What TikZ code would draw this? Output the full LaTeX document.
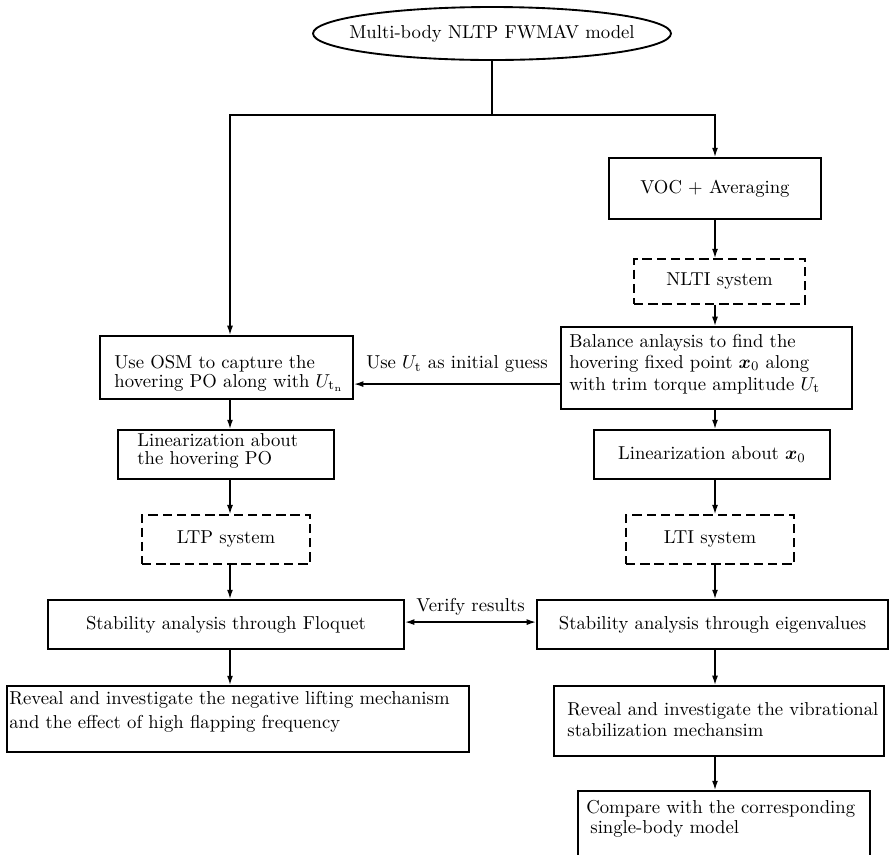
\documentclass[tikz,border=0pt]{standalone}
\usepackage{amsmath,bm}
\usetikzlibrary{arrows.meta,shapes.geometric,calc}
\begin{document}
\begin{tikzpicture}[x=0.535pt,y=-0.535pt,
  bx/.style={draw,line width=1pt,inner sep=0pt},
  dbx/.style={draw,line width=0.8pt,dash pattern=on 5pt off 2.6pt,inner sep=0pt},
  arr/.style={line width=0.8pt,-{Latex[length=5pt,width=3.2pt]}},
  darr/.style={line width=0.8pt,{Latex[length=5pt,width=3.2pt]}-{Latex[length=5pt,width=3.2pt]}},
  ln/.style={line width=0.8pt},
  tl/.style={inner sep=0pt,anchor=base west},
  font=\fontsize{10pt}{12pt}\selectfont]
\useasboundingbox (0,0) rectangle (890,854);

% top ellipse
\draw[line width=1pt] (492,33.5) ellipse [x radius=179, y radius=26.5];
\node[inner sep=0pt] (ell) at (492,33.5) {Multi-body NLTP FWMAV model};
\coordinate (ellb) at (492,60);

% right column
\node[bx,minimum width=113.4pt,minimum height=32.6pt] (voc) at (715,188.5) {VOC + Averaging};
\node[dbx,minimum width=91.5pt,minimum height=24.1pt] (nlti) at (719.5,281.5) {NLTI system};
\node[bx,minimum width=155.7pt,minimum height=43.9pt] (bal) at (706.5,368) {};
\node[tl] (bal1) at (569,347) {Balance anlaysis to find the};
\node[tl] (bal2) at (569,368) {hovering fixed point $\bm{x}_0$ along};
\node[tl] (bal3) at (569,390) {with trim torque amplitude $U_\mathrm{t}$};
\node[bx,minimum width=126.3pt,minimum height=26.2pt] (lx0) at (712,454.5) {Linearization about $\bm{x}_0$};
\node[dbx,minimum width=89.9pt,minimum height=26.2pt] (lti) at (710,539.5) {LTI system};
\node[bx,minimum width=187.8pt,minimum height=26.2pt] (eig) at (712.5,624.5) {Stability analysis through eigenvalues};
\node[bx,minimum width=176.6pt,minimum height=37.5pt] (rvr) at (719,721) {};
\node[tl] (rvr1) at (567,715) {Reveal and investigate the vibrational};
\node[tl] (rvr2) at (567,736) {stabilization mechansim};
\node[bx,minimum width=156.2pt,minimum height=47.6pt] (cmp) at (724,835.5) {};
\node[tl] (cmp1) at (586,813) {Compare with the corresponding};
\node[tl] (cmp2) at (590,833) {single-body model};

% left column
\node[bx,minimum width=135.4pt,minimum height=33.7pt] (osm) at (226.5,367.5) {};
\node[tl] (osm1) at (114,368) {Use OSM to capture the};
\node[tl] (osm2) at (114,387) {hovering PO along with $U_{\mathrm{t}_\mathrm{n}}$};
\node[bx,minimum width=115.6pt,minimum height=26.2pt] (lpo) at (226,454.5) {};
\node[tl] (lpo1) at (137,446) {Linearization about};
\node[tl] (lpo2) at (137,464) {the hovering PO};
\node[dbx,minimum width=89.9pt,minimum height=26.2pt] (ltp) at (226,539.5) {LTP system};
\node[bx,minimum width=190.5pt,minimum height=26.2pt] (flq) at (226,624.5) {Stability analysis through Floquet};
\node[bx,minimum width=247.2pt,minimum height=35.3pt] (rvl) at (238,719) {};
\node[tl] (rvl1) at (9,704) {Reveal and investigate the negative lifting mechanism};
\node[tl] (rvl2) at (9,728) {and the effect of high flapping frequency};

% helper coordinates
\coordinate (jn) at (492,115);
\coordinate (colL) at (230,0);
\coordinate (colR) at (715,0);

% connectors
\draw[ln] (ellb) -- (jn);
\draw[arr] (jn) -| (colL |- osm.north);
\draw[arr] (jn) -| (colR |- voc.north);
\draw[arr] (colR |- voc.south) -- (colR |- nlti.north);
\draw[arr] (colR |- nlti.south) -- (colR |- bal.north);
\draw[arr] ([yshift=-8.6pt]bal.west) -- node[above=2.3pt] (lbl1) {Use $U_\mathrm{t}$ as initial guess} ([yshift=-8.6pt]bal.west -| osm.east);
\draw[arr] (colL |- osm.south) -- (colL |- lpo.north);
\draw[arr] (colL |- lpo.south) -- (colL |- ltp.north);
\draw[arr] (colL |- ltp.south) -- (colL |- flq.north);
\draw[arr] (colL |- flq.south) -- (colL |- rvl.north);
\draw[arr] (colR |- bal.south) -- (colR |- lx0.north);
\draw[arr] (colR |- lx0.south) -- (colR |- lti.north);
\draw[arr] (colR |- lti.south) -- (colR |- eig.north);
\draw[arr] (colR |- eig.south) -- (colR |- rvr.north);
\draw[arr] (colR |- rvr.south) -- (colR |- cmp.north);
\draw[darr] ([yshift=1.3pt]flq.east) -- node[above] (lbl2) {Verify results} ([yshift=1.3pt]flq.east -| eig.west);
\end{tikzpicture}
\end{document}
